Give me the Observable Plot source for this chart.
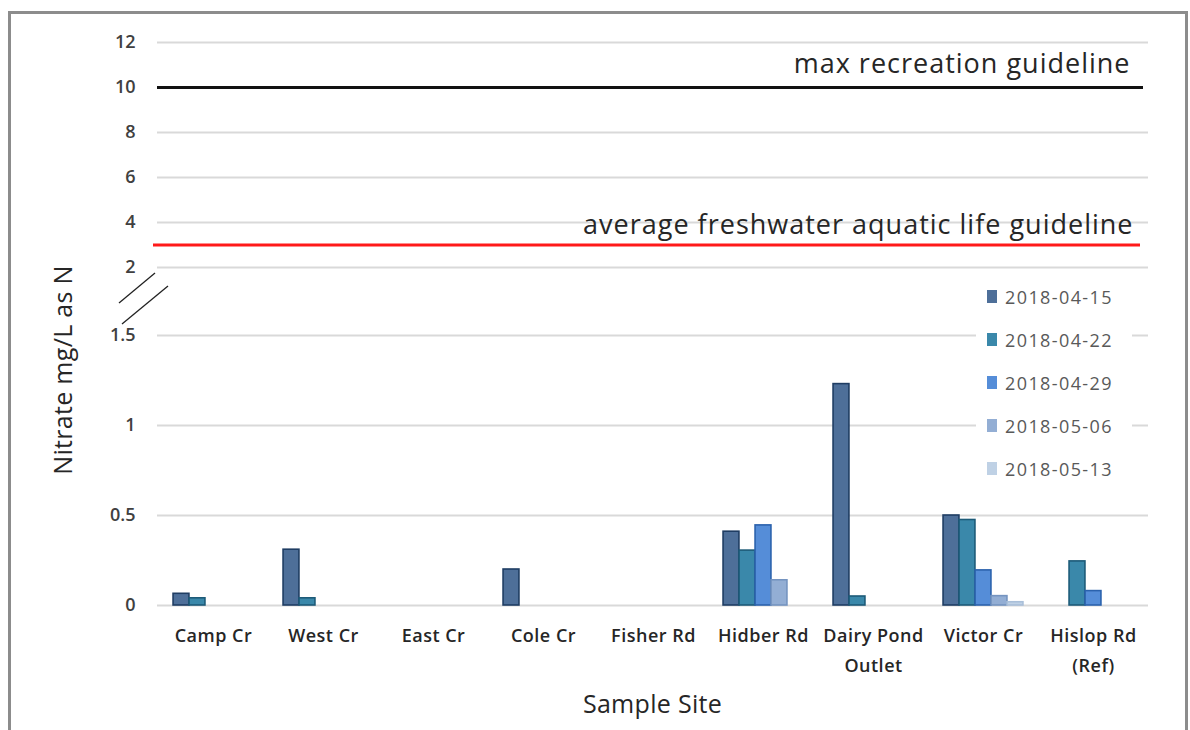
<!DOCTYPE html>
<html>
<head>
<meta charset="utf-8">
<script src="https://cdn.jsdelivr.net/npm/d3@7"></script>
<script src="https://cdn.jsdelivr.net/npm/@observablehq/plot@0.6"></script>
<style>
  body { margin: 0; background: #fff; overflow: hidden; font-family: "Open Sans", sans-serif; }
  #wrap { position: relative; width: 1190px; height: 730px; }
  #chart svg { position: absolute; left: 0; top: 0; }
  #frame { position: absolute; left: 8px; top: 11px; width: 1180px; height: 760px; border: 3px solid #8c8c8c; box-sizing: border-box; pointer-events: none; }
  #legend { position: absolute; left: 976px; top: 275px; width: 156px; background: #fff; }
  .item { height: 43px; display: flex; align-items: center; padding-left: 11px; font-size: 18px; color: #595959; letter-spacing: 1.4px; }
  .sw { width: 10px; height: 13px; margin-right: 8px; }
  #xtitle { position: absolute; left: 0; width: 1305px; top: 686px; text-align: center; font-size: 25px; letter-spacing: 0.3px; color: #262626; }
  #ytitle { position: absolute; left: 62px; top: 370px; transform: translate(-50%, -50%) rotate(-90deg); white-space: nowrap; font-size: 25px; letter-spacing: 0.3px; color: #262626; }
</style>
</head>
<body>
<div id="wrap">
  <div id="chart"></div>
  <div id="legend"></div>
  <div id="xtitle">Sample Site</div>
  <div id="ytitle">Nitrate mg/L as N</div>
  <div id="frame"></div>
</div>
<script>
// ---- data ----
const sites = ["Camp Cr", "West Cr", "East Cr", "Cole Cr", "Fisher Rd", "Hidber Rd", "Dairy Pond\nOutlet", "Victor Cr", "Hislop Rd\n(Ref)"];
const dates = ["2018-04-15", "2018-04-22", "2018-04-29", "2018-05-06", "2018-05-13"];
const v20180415 = [0.065, 0.31, 0, 0.2, 0, 0.41, 1.23, 0.5, 0];
const v20180422 = [0.04, 0.04, 0, 0, 0, 0.305, 0.05, 0.475, 0.245];
const v20180429 = [0, 0, 0, 0, 0, 0.445, 0, 0.195, 0.08];
const v20180506 = [0, 0, 0, 0, 0, 0.14, 0, 0.052, 0];
const v20180513 = [0, 0, 0, 0, 0, 0, 0, 0.018, 0];
const seriesValues = [v20180415, v20180422, v20180429, v20180506, v20180513];
const recreationMax = 10;
const aquaticLifeAvg = 3;
const yTicks = [0, 0.5, 1, 1.5, 2, 4, 6, 8, 10, 12];
const gridTicks = [0, 0.5, 1, 1.5, 2, 4, 6, 8, 12];
const guidelineLabels = ["max recreation guideline", "average freshwater aquatic life guideline"];

// ---- styles ----
const fills = ["#4e6f99", "#3a88aa", "#558dd8", "#93aed4", "#bfd1e5"];
const strokes = ["#1f3d63", "#1d5b78", "#2b62ad", "#7594c0", "#a9bfd9"];

// broken axis: lower part 0–1.5 expanded, upper part 2–12 compressed
const brokenAxis = d3.scaleLinear().domain([0, 1.5, 2, 12]).range([0, 1.5, 1.8778, 3.1278]);

const W = 1190, H = 730, ML = 157, MR = 42, MT = 42, MB = 125;
const band = (W - ML - MR) / sites.length;
const barW = 16;

const barMarks = dates.map((d, i) => {
  const rows = sites.map((s, j) => ({site: s, date: d, value: seriesValues[i][j]})).filter(r => r.value > 0);
  return Plot.barY(rows, {
    x: "site", y: r => brokenAxis(r.value),
    fill: fills[i], stroke: strokes[i], strokeWidth: 1.6,
    insetLeft: (band - barW) / 2, insetRight: (band - barW) / 2,
    dx: (i - (dates.length - 1) / 2) * barW
  });
});

const plot = Plot.plot({
  width: W,
  height: H,
  marginLeft: ML,
  marginRight: MR,
  marginTop: MT,
  marginBottom: MB,
  style: {fontFamily: "Open Sans", background: "transparent", overflow: "visible"},
  x: {domain: sites, padding: 0, label: null},
  y: {domain: [0, brokenAxis(12)], label: null},
  marks: [
    Plot.ruleY(gridTicks.map(brokenAxis), {stroke: "#d9d9d9", strokeWidth: 2}),
    Plot.ruleY([brokenAxis(aquaticLifeAvg)], {stroke: "#ff1a1a", strokeWidth: 3, insetLeft: -4, insetRight: 8}),
    Plot.ruleY([brokenAxis(recreationMax)], {stroke: "#111", strokeWidth: 3, insetRight: 5}),
    ...barMarks,
    Plot.text([guidelineLabels[0]], {y: brokenAxis(recreationMax), frameAnchor: "right", textAnchor: "end", dx: -18, dy: -23, fontSize: 27, fill: "#262626", style: "letter-spacing:1px"}),
    Plot.text([guidelineLabels[1]], {y: brokenAxis(aquaticLifeAvg), frameAnchor: "right", textAnchor: "end", dx: -15, dy: -20, fontSize: 27, fill: "#262626", style: "letter-spacing:1px"}),
    Plot.axisY({ticks: yTicks.map(brokenAxis), tickFormat: u => String(Math.round(brokenAxis.invert(u) * 10) / 10),
      tickSize: 0, tickPadding: 22, fontSize: 18, fontWeight: 600, color: "#404040", label: null}),
    Plot.axisX({tickSize: 0, tickPadding: 15, fontSize: 18, fontWeight: 600, lineHeight: 1.67, color: "#262626", label: null})
  ]
});

document.getElementById("chart").appendChild(plot);
d3.select(plot).selectAll("text").filter(function () { return this.textContent.includes("guideline"); }).style("letter-spacing", "1px");
d3.select(plot).selectAll('g[aria-label="x-axis tick label"] text').style("letter-spacing", "0.5px");

// axis break marks, placed with the plot's own y scale
const ys = plot.scale("y");
const yMid = ys.apply(brokenAxis(1.75));
const svg = d3.select(plot);
const brk = [[ML - 38, yMid + 2, ML - 2, yMid - 28], [ML - 35, yMid + 23, ML + 11, yMid - 15]];
svg.append("g").selectAll("line").data(brk).join("line")
  .attr("x1", d => d[0]).attr("y1", d => d[1]).attr("x2", d => d[2]).attr("y2", d => d[3])
  .attr("stroke", "#222").attr("stroke-width", 1.3);

// legend
const lg = d3.select("#legend");
dates.forEach((d, i) => {
  const it = lg.append("div").attr("class", "item");
  it.append("div").attr("class", "sw").style("background", fills[i]);
  it.append("span").text(d);
});
</script>
</body>
</html>
